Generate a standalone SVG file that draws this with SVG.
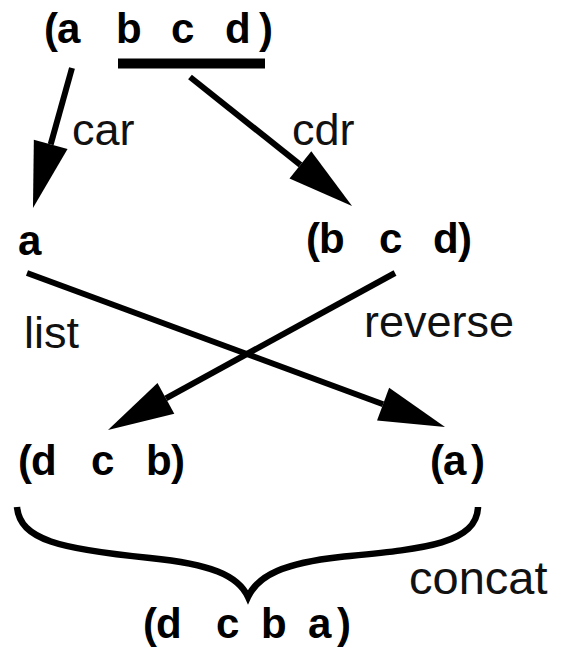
<svg xmlns="http://www.w3.org/2000/svg" width="562" height="649" viewBox="0 0 562 649">
<style>
.b{font-family:"Liberation Sans",Arial,sans-serif;font-weight:bold;font-size:42px;fill:#000}
.l{font-family:"Liberation Sans",Arial,sans-serif;font-size:45px;fill:#111}
.ln{stroke:#000;stroke-width:6;fill:none;marker-end:url(#ah)}
.br{stroke:#000;stroke-width:6.5;fill:none;stroke-linejoin:miter}
</style>
<defs>
<marker id="ah" markerUnits="userSpaceOnUse" viewBox="0 -17.5 66 35" refX="0" refY="0" markerWidth="66" markerHeight="35" orient="auto" overflow="visible">
<path d="M0,-17.5 L66,0 L0,17.5 z" fill="#000"/>
</marker>
</defs>
<rect width="562" height="649" fill="#fff"/>
<g id="n-abcd">
<text class="b" y="43" x="44 57 80 116 140 171 195 225 259">(a b c d)</text>
<rect x="118" y="58.5" width="147" height="10" fill="#000"/>
</g>
<g id="n-a"><text class="b" x="18" y="255">a</text></g>
<g id="n-bcd"><text class="b" y="253" x="306 319 345 379 403 433 458 462">(b c d)</text></g>
<g id="n-dcb"><text class="b" y="475" x="18 31 57 91 115 146 171 174">(d c b)</text></g>
<g id="n-a2"><text class="b" y="475" x="430 443 471">(a)</text></g>
<g id="n-dcba"><text class="b" y="638" x="143 156 182 216 240 261 287 308 337">(d c b a)</text></g>
<g id="labels">
<text class="l" x="72" y="145">car</text>
<text class="l" x="292" y="145">cdr</text>
<text class="l" x="24" y="348">list</text>
<text class="l" x="364" y="337">reverse</text>
<text class="l" x="409" y="594" style="font-size:47px">concat</text>
</g>
<g id="connectors">
<line class="ln" x1="72" y1="68" x2="50.7" y2="144.4"/>
<line class="ln" x1="190" y1="77" x2="300.4" y2="164.9"/>
<line class="ln" x1="27" y1="273" x2="383.1" y2="404.2"/>
<line class="ln" x1="395" y1="273" x2="165.9" y2="398.3"/>
<path class="br" d="M17,507 C20,540 60,549 150,558 C210,564 238,575 248,597 C258,575 285,563 340,557 C420,549 477,545 478,507"/>
</g>
</svg>
